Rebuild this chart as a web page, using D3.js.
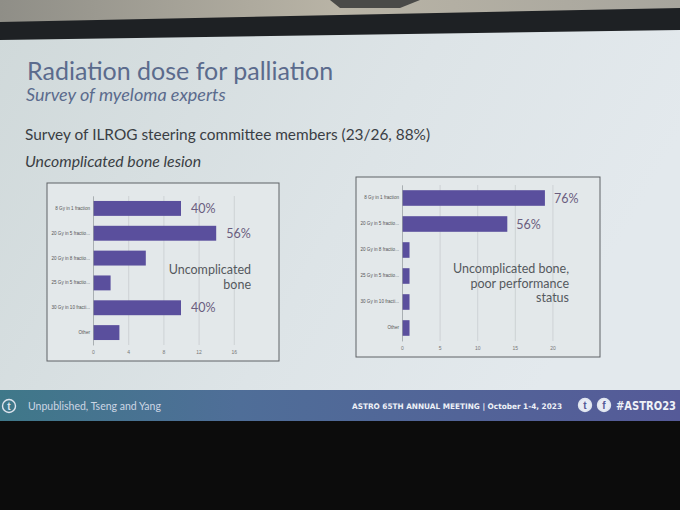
<!DOCTYPE html>
<html>
<head>
<meta charset="utf-8">
<script src="https://cdn.jsdelivr.net/npm/d3@7"></script>
<style>
  html, body { margin: 0; padding: 0; background: #0c0c0c; }
  svg { display: block; }
</style>
</head>
<body>
<svg id="chart" width="680" height="510"></svg>
<script>
// ---------- data ----------
const categories = ["8 Gy in 1 fraction", "20 Gy in 5 fractio...", "20 Gy in 8 fractio...", "25 Gy in 5 fractio...", "30 Gy in 10 fracti...", "Other"];
const valuesBone = [10, 14, 6, 2, 10, 3];
const valuesPoorPS = [19, 14, 1, 1, 1, 1];
const ticksBone = [0, 4, 8, 12, 16];
const ticksPoorPS = [0, 5, 10, 15, 20];
const pctBone = ["40%", "56%", "", "", "40%", ""];
const pctPoorPS = ["76%", "56%", "", "", "", ""];
const noteBone = ["Uncomplicated", "bone"];
const notePoorPS = ["Uncomplicated bone,", "poor performance", "status"];

const svg = d3.select("#chart");
const defs = svg.append("defs");

// ---------- room / screen background ----------
const ceil = defs.append("linearGradient").attr("id", "ceil").attr("x1", 0).attr("x2", 1);
ceil.append("stop").attr("offset", 0).attr("stop-color", "#8f8e87");
ceil.append("stop").attr("offset", 0.5).attr("stop-color", "#b9b4a6");
ceil.append("stop").attr("offset", 1).attr("stop-color", "#a7a59d");
svg.append("rect").attr("x", 0).attr("y", 0).attr("width", 680).attr("height", 40).attr("fill", "url(#ceil)");
svg.append("path").attr("d", "M330,0 L420,0 L400,8 L340,8 Z").attr("fill", "#4a4a48");

const slideG = defs.append("linearGradient").attr("id", "slide").attr("x1", 0).attr("x2", 1).attr("y1", 0).attr("y2", 0.3);
slideG.append("stop").attr("offset", 0).attr("stop-color", "#d0d9da");
slideG.append("stop").attr("offset", 0.6).attr("stop-color", "#dde4e7");
slideG.append("stop").attr("offset", 1).attr("stop-color", "#e3e9ed");

svg.append("path").attr("d", "M0,22 L680,8 L680,32 L0,42 Z").attr("fill", "#1e2124");
svg.append("path").attr("d", "M0,40 L680,30 L680,392 L0,392 Z").attr("fill", "url(#slide)");

// ---------- slide text ----------
const font = "Lato, 'Open Sans', sans-serif";
svg.append("text").attr("x", 27).attr("y", 80).attr("font-family", font).attr("font-size", 25)
  .attr("fill", "#5b6b8d").text("Radiation dose for palliation");
svg.append("text").attr("x", 26).attr("y", 101).attr("font-family", font).attr("font-style", "italic")
  .attr("font-size", 18).attr("fill", "#5b6b8d").text("Survey of myeloma experts");
svg.append("text").attr("x", 25).attr("y", 140).attr("font-family", font).attr("font-size", 15.4)
  .attr("fill", "#3a3e44").text("Survey of ILROG steering committee members (23/26, 88%)");
svg.append("text").attr("x", 25).attr("y", 167).attr("font-family", font).attr("font-style", "italic")
  .attr("font-size", 15.8).attr("fill", "#3a3e44").text("Uncomplicated bone lesion");

// ---------- chart builder ----------
function drawChart(cfg) {
  const g = svg.append("g");
  g.append("rect").attr("x", cfg.box[0]).attr("y", cfg.box[1]).attr("width", cfg.box[2]).attr("height", cfg.box[3])
    .attr("fill", "#e3e8ea").attr("stroke", "#5f6266").attr("stroke-width", 1);

  const x = d3.scaleLinear().domain(cfg.domain).range([cfg.x0, cfg.x1]);
  const y = d3.scaleBand().domain(categories).range([cfg.y0, cfg.y1]).paddingInner(0.4).paddingOuter(0.2);

  const rows = categories.map((c, i) => ({ cat: c, value: cfg.values[i], pct: cfg.pct[i] }));

  // grid + x ticks
  const xAxis = d3.axisBottom(x).tickValues(cfg.ticks).tickSize(-(cfg.y1 - cfg.y0)).tickPadding(5);
  const gx = g.append("g").attr("transform", `translate(0,${cfg.y1})`).call(xAxis);
  gx.select(".domain").remove();
  gx.selectAll(".tick line").attr("stroke", "#c4c9cc").attr("stroke-width", 0.7);
  gx.selectAll(".tick text").attr("font-family", "Arial, 'Liberation Sans', sans-serif").attr("font-size", 5)
    .attr("fill", "#777");

  // bars
  g.selectAll("rect.bar").data(rows).join("rect").attr("class", "bar")
    .attr("x", x(0)).attr("y", d => y(d.cat))
    .attr("width", d => x(d.value) - x(0)).attr("height", y.bandwidth())
    .attr("fill", "#5a4f9d");

  // y axis
  const yAxis = d3.axisLeft(y).tickSize(0).tickPadding(3);
  const gy = g.append("g").attr("transform", `translate(${x(0)},0)`).call(yAxis);
  gy.select(".domain").attr("stroke", "#9aa0a4").attr("stroke-width", 0.7);
  gy.selectAll(".tick text").attr("font-family", "Arial, 'Liberation Sans', sans-serif").attr("font-size", 4.6)
    .attr("fill", "#555");

  // percent labels
  g.selectAll("text.pct").data(rows.filter(d => d.pct)).join("text").attr("class", "pct")
    .attr("x", d => x(d.value) + cfg.pctGap)
    .attr("y", d => y(d.cat) + y.bandwidth() / 2 + 4.5)
    .attr("font-family", font).attr("font-size", 12.5).attr("fill", "#6a5d7e")
    .text(d => d.pct);

  // note
  g.selectAll("text.note").data(cfg.note).join("text").attr("class", "note")
    .attr("x", cfg.noteX).attr("y", (d, i) => cfg.noteY + i * cfg.noteDy)
    .attr("text-anchor", "end").attr("font-family", font).attr("font-size", 12.5).attr("fill", "#55595e")
    .text(d => d);
}

drawChart({
  box: [47, 183, 232, 178], domain: [0, 20], x0: 93, x1: 269, y0: 196, y1: 345,
  ticks: ticksBone, values: valuesBone, pct: pctBone, pctGap: 10,
  note: noteBone, noteX: 251, noteY: 274, noteDy: 15
});
drawChart({
  box: [356, 177, 244, 180], domain: [0, 23], x0: 402, x1: 575, y0: 185, y1: 341,
  ticks: ticksPoorPS, values: valuesPoorPS, pct: pctPoorPS, pctGap: 9,
  note: notePoorPS, noteX: 569, noteY: 273, noteDy: 14.5
});

// ---------- footer ----------
const foot = defs.append("linearGradient").attr("id", "foot").attr("x1", 0).attr("x2", 1);
foot.append("stop").attr("offset", 0).attr("stop-color", "#3f7889");
foot.append("stop").attr("offset", 0.35).attr("stop-color", "#4f6e98");
foot.append("stop").attr("offset", 1).attr("stop-color", "#555a98");
svg.append("rect").attr("x", 0).attr("y", 390).attr("width", 680).attr("height", 31).attr("fill", "url(#foot)");
svg.append("rect").attr("x", 0).attr("y", 421).attr("width", 680).attr("height", 89).attr("fill", "#0c0c0c");

// icons
function circleIcon(cx, cy, r, letter, filled) {
  svg.append("circle").attr("cx", cx).attr("cy", cy).attr("r", r)
    .attr("fill", filled ? "#e8ecf4" : "none").attr("stroke", "#dfe5ef").attr("stroke-width", 1.4);
  svg.append("text").attr("x", cx).attr("y", cy + 3.5).attr("text-anchor", "middle")
    .attr("font-family", "Arial, sans-serif").attr("font-weight", "bold").attr("font-size", 10)
    .attr("fill", filled ? "#555a98" : "#dfe5ef").text(letter);
}
circleIcon(9, 406, 6.5, "t", false);
circleIcon(585, 405, 6.5, "t", true);
circleIcon(604, 405, 6.5, "f", true);

svg.append("text").attr("x", 28).attr("y", 410).attr("font-family", font).attr("font-size", 10.5)
  .attr("fill", "#cdd6e4").text("Unpublished, Tseng and Yang");
svg.append("text").attr("x", 352).attr("y", 409).attr("font-family", "'DejaVu Sans Condensed', 'DejaVu Sans', sans-serif")
  .attr("font-weight", "bold").attr("font-size", 7.6).attr("fill", "#eef1f7")
  .attr("textLength", 210).attr("lengthAdjust", "spacingAndGlyphs")
  .text("ASTRO 65TH ANNUAL MEETING  |  October 1-4, 2023");
svg.append("text").attr("x", 616).attr("y", 410).attr("font-family", "'DejaVu Sans Condensed', 'DejaVu Sans', sans-serif")
  .attr("font-weight", "bold").attr("font-size", 11.5).attr("fill", "#eef1f7")
  .attr("textLength", 60).attr("lengthAdjust", "spacingAndGlyphs").text("#ASTRO23");
</script>
</body>
</html>
